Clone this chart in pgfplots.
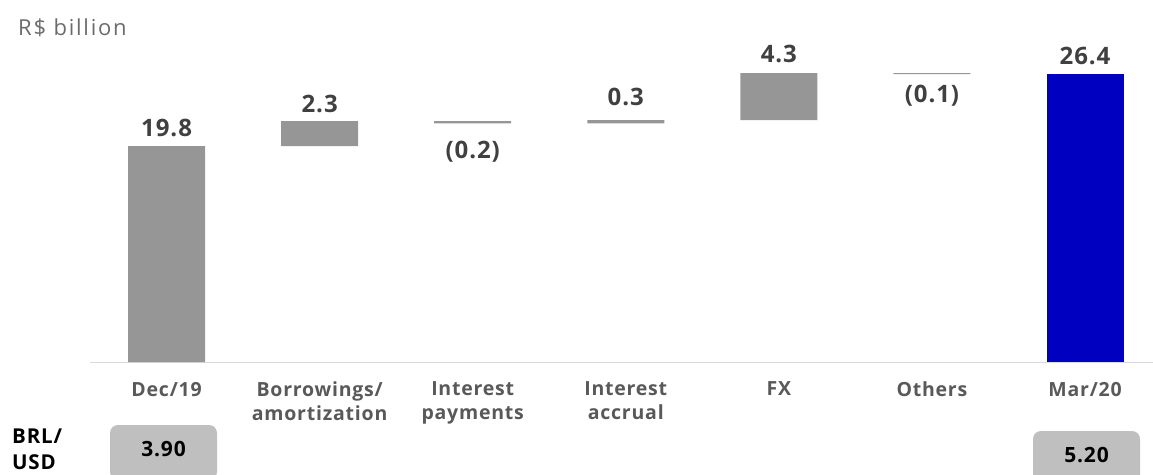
\documentclass[border=0pt]{standalone}
\usepackage{pgfplots}
\pgfplotsset{compat=1.18}
\usepackage{fontspec}
\setmainfont{Open Sans}[LetterSpace=4]
\newfontfamily\unitfont{Open Sans}[LetterSpace=8]
\definecolor{bargray}{HTML}{969696}
\definecolor{barblue}{HTML}{0000C0}
\definecolor{valgray}{HTML}{404040}
\definecolor{tickgray}{HTML}{595959}
\definecolor{unitgray}{HTML}{6B6B6B}
\definecolor{boxgray}{HTML}{BFBFBF}
\definecolor{basegray}{HTML}{D9D9D9}
\pgfplotstableread{
x base gray blue
0 0    19.8 0
1 19.8 2.3  0
2 21.9 0.2  0
3 21.9 0.3  0
4 22.2 4.3  0
5 26.4 0.1  0
6 0    0    26.4
}\waterfall
\begin{document}
\begin{tikzpicture}[x=1pt,y=1pt]
\useasboundingbox (0,0) rectangle (1153,474);
\begin{axis}[
  at={(90pt,112pt)}, anchor=south west,
  scale only axis, width=1063pt, height=327pt,
  xmin=-0.5, xmax=6.444, ymin=0, ymax=30,
  hide y axis,
  axis x line*=bottom,
  x axis line style={basegray, line width=1pt},
  xtick={0,...,6},
  xticklabels={Dec/19,{Borrowings/\\amortization},{Interest\\payments},{Interest\\accrual},FX,Others,Mar/20},
  xticklabel style={align=center, text=tickgray, font=\fontsize{19.5}{23.5}\selectfont\bfseries, anchor=north, yshift=-16.5pt},
  major tick length=0pt,
  ybar stacked, bar width=77pt,
  clip=false,
]
\addplot[draw=none, fill=none, forget plot] table[x=x, y=base] {\waterfall};
\addplot[draw=none, fill=bargray] table[x=x, y=gray] {\waterfall};
\addplot[draw=none, fill=barblue] table[x=x, y=blue] {\waterfall};
\tikzset{vl/.style={text=valgray, font=\fontsize{24}{28}\selectfont\bfseries}}
\node[vl, anchor=south, yshift=6pt] at (axis cs:0,19.8) {19.8};
\node[vl, anchor=south, yshift=5pt] at (axis cs:1,22.1) {2.3};
\node[vl, anchor=north, yshift=-14pt] at (axis cs:2,21.9) {(0.2)};
\node[vl, anchor=south, yshift=11pt] at (axis cs:3,22.2) {0.3};
\node[vl, anchor=south, yshift=7pt] at (axis cs:4,26.5) {4.3};
\node[vl, anchor=north, yshift=-7pt] at (axis cs:5,26.4) {(0.1)};
\node[vl, anchor=south, yshift=6pt] at (axis cs:6,26.4) {26.4};
\end{axis}
\node[anchor=west, text=unitgray, font=\fontsize{22}{26}\selectfont\unitfont, inner sep=0pt] at (18,446) {R\$ billion};
\node[anchor=north west, align=left, font=\fontsize{20.5}{25.5}\selectfont\bfseries, inner sep=0pt] at (12,45) {BRL/\\USD};
\fill[boxgray, rounded corners=8pt] (110,-6) rectangle (217,49);
\node[font=\fontsize{21}{24}\selectfont\bfseries] at (163.5,24.5) {3.90};
\fill[boxgray, rounded corners=8pt] (1033,-12) rectangle (1140,43);
\node[font=\fontsize{21}{24}\selectfont\bfseries] at (1086.5,19) {5.20};
\end{tikzpicture}
\end{document}
